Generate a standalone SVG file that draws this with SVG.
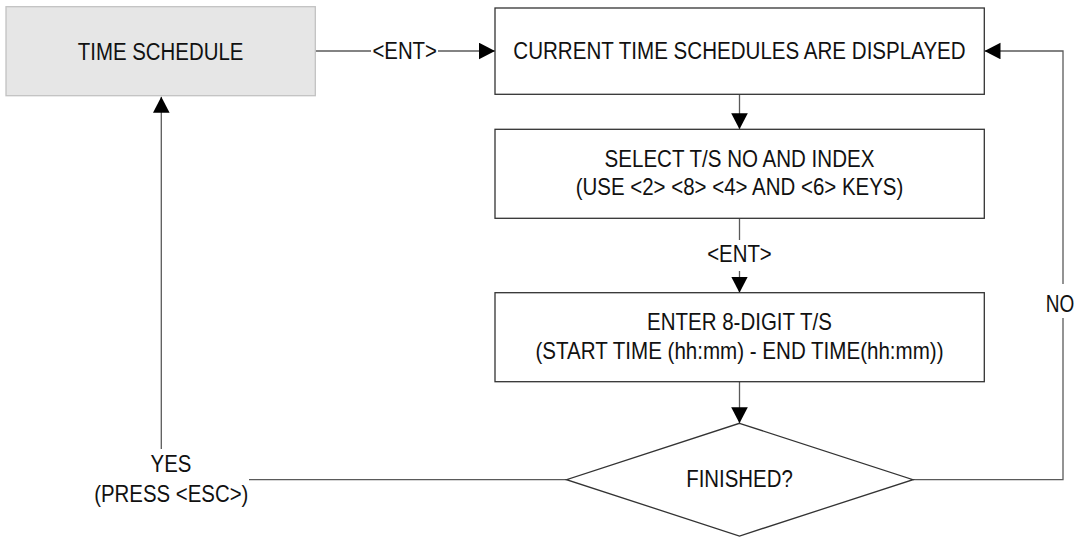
<svg xmlns="http://www.w3.org/2000/svg" width="1079" height="538" viewBox="0 0 1079 538">
  <style>
    .box { fill: #ffffff; stroke: #333333; stroke-width: 1.3; }
    .start { fill: #e6e6e6; stroke: #c2c2c2; stroke-width: 1.3; }
    .lbl { font-family: "Liberation Sans Narrow", "Liberation Sans", Arial, sans-serif; font-size: 24.5px; fill: #111111; text-anchor: middle; }
    .wire { fill: none; stroke: #5a5a5a; stroke-width: 1.3; }
  </style>
  <defs>
    <marker id="arrow" markerUnits="userSpaceOnUse" markerWidth="17" markerHeight="17" refX="16" refY="8.3" orient="auto">
      <path d="M0,0 L16,8.3 L0,16.6 Z" fill="#000000"/>
    </marker>
  </defs>

  <rect width="1079" height="538" fill="#ffffff"/>

  <!-- connectors -->
  <g id="connectors">
    <!-- TIME SCHEDULE -> current schedules -->
    <path class="wire" d="M315.3,51 H371"/>
    <path class="wire" d="M438,51 H495" marker-end="url(#arrow)"/>
    <text class="lbl" x="404.7" y="59" textLength="64.6" lengthAdjust="spacingAndGlyphs">&lt;ENT&gt;</text>

    <!-- current schedules -> select -->
    <path class="wire" d="M739.5,94.3 V129.3" marker-end="url(#arrow)"/>

    <!-- select -> enter -->
    <path class="wire" d="M739.5,218.3 V240"/>
    <path class="wire" d="M739.5,271 V292.7" marker-end="url(#arrow)"/>
    <text class="lbl" x="739.5" y="262.3" textLength="64.6" lengthAdjust="spacingAndGlyphs">&lt;ENT&gt;</text>

    <!-- finished? YES -> TIME SCHEDULE -->
    <path class="wire" d="M566.5,479.7 H249"/>
    <path class="wire" d="M161.3,449 V96.7" marker-end="url(#arrow)"/>
    <text class="lbl" x="171" y="471.7" textLength="40.8" lengthAdjust="spacingAndGlyphs">YES</text>
    <text class="lbl" x="171.3" y="501.5" textLength="154.2" lengthAdjust="spacingAndGlyphs">(PRESS &lt;ESC&gt;)</text>

    <!-- enter -> finished? -->
    <path class="wire" d="M739.5,381.7 V423.3" marker-end="url(#arrow)"/>

    <!-- finished? NO -> current schedules -->
    <path class="wire" d="M913,479.7 H1063 V318"/>
    <path class="wire" d="M1063,284 V51 H984.5" marker-end="url(#arrow)"/>
    <text class="lbl" x="1060" y="311.7" textLength="28.5" lengthAdjust="spacingAndGlyphs">NO</text>
  </g>

  <g id="time-schedule">
    <rect class="start" x="6" y="6.7" width="309.3" height="89"/>
    <text class="lbl" x="160.6" y="60" textLength="165.5" lengthAdjust="spacingAndGlyphs">TIME SCHEDULE</text>
  </g>

  <g id="current-schedules">
    <rect class="box" x="495" y="8" width="489.3" height="86.3"/>
    <text class="lbl" x="739.5" y="59.3" textLength="452.3" lengthAdjust="spacingAndGlyphs">CURRENT TIME SCHEDULES ARE DISPLAYED</text>
  </g>

  <g id="select-ts">
    <rect class="box" x="495" y="129.3" width="489.3" height="89"/>
    <text class="lbl" x="739.5" y="166.6" textLength="269.8" lengthAdjust="spacingAndGlyphs">SELECT T/S NO AND INDEX</text>
    <text class="lbl" x="739.5" y="195.1" textLength="327.7" lengthAdjust="spacingAndGlyphs">(USE &lt;2&gt; &lt;8&gt; &lt;4&gt; AND &lt;6&gt; KEYS)</text>
  </g>

  <g id="enter-ts">
    <rect class="box" x="495" y="292.7" width="489.3" height="89"/>
    <text class="lbl" x="739.5" y="330" textLength="184.8" lengthAdjust="spacingAndGlyphs">ENTER 8-DIGIT T/S</text>
    <text class="lbl" x="739.5" y="358.5" textLength="408" lengthAdjust="spacingAndGlyphs">(START TIME (hh:mm) - END TIME(hh:mm))</text>
  </g>

  <g id="finished">
    <polygon class="box" points="739.5,423.3 913,479.7 739.5,536 566.5,479.7"/>
    <text class="lbl" x="739.5" y="486.7" textLength="106.5" lengthAdjust="spacingAndGlyphs">FINISHED?</text>
  </g>
</svg>
